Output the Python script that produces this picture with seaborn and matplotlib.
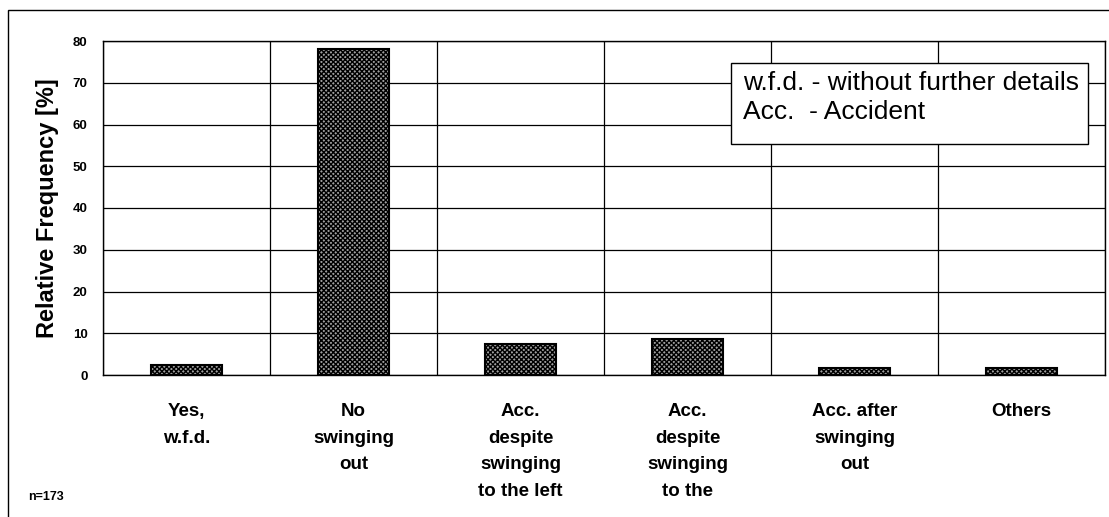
import numpy as np
import pandas as pd
import matplotlib
matplotlib.use("Agg")
import matplotlib.pyplot as plt
from matplotlib.patches import Rectangle
import seaborn as sns

# Data
categories = [
    "Yes,\nw.f.d.",
    "No\nswinging\nout",
    "Acc.\ndespite\nswinging\nto the left",
    "Acc.\ndespite\nswinging\nto the",
    "Acc. after\nswinging\nout",
    "Others",
]
rel_freq = [2.3, 78.0, 7.5, 8.7, 1.7, 1.7]
y_ticks = [0, 10, 20, 30, 40, 50, 60, 70, 80]
legend_lines = ["w.f.d. - without further details", "Acc.  - Accident"]
sample_note = "n=173"

df = pd.DataFrame({"category": categories, "value": rel_freq})

sns.set_style("white")
plt.rcParams["font.family"] = ["Liberation Sans", "DejaVu Sans"]
plt.rcParams["hatch.linewidth"] = 1.0
for key in ["text.color", "axes.labelcolor", "xtick.color", "ytick.color"]:
    plt.rcParams[key] = "black"

W, H = 1109, 517
fig = plt.figure(figsize=(W / 100, H / 100), dpi=100)
ax = fig.add_axes([103 / W, 1 - 375 / H, (1105 - 103) / W, (375 - 41) / H])

sns.barplot(data=df, x="category", y="value", color="#a0a0a0", width=0.42,
            edgecolor="black", linewidth=1.5, saturation=1, ax=ax)
for bar in ax.patches:
    bar.set_hatch("xxxxxxx")

ax.set_xlim(-0.5, len(categories) - 0.5)
ax.set_ylim(0, 80)
ax.set_yticks(y_ticks)
ax.set_yticklabels([str(t) for t in y_ticks], fontsize=9.5, fontweight="bold")
ax.set_xticks(range(len(categories)))
ax.set_xticklabels(categories, fontsize=13.5, fontweight="bold", linespacing=1.75,
                   va="top")
ax.set_xticks(np.arange(-0.5, len(categories), 1.0), minor=True)

ax.tick_params(axis="x", which="major", length=0, pad=20)
ax.tick_params(axis="x", which="minor", length=6, width=0.8, direction="out", color="black")
ax.tick_params(axis="y", length=5, width=0.8, direction="out", color="black", pad=6)

ax.grid(axis="y", which="major", color="black", linewidth=0.9)
ax.grid(axis="x", which="minor", color="black", linewidth=0.9)
ax.set_axisbelow(True)
for s in ax.spines.values():
    s.set_color("black")
    s.set_linewidth(1.0)

ax.set_xlabel("")
ax.set_ylabel("Relative Frequency [%]", fontsize=17, fontweight="bold", labelpad=10)

# legend-style note box
fig.patches.append(Rectangle((731 / W, 1 - 144 / H), (1088 - 731) / W, (144 - 63) / H,
                             transform=fig.transFigure, facecolor="white",
                             edgecolor="black", linewidth=1.0, zorder=5))
for i, line in enumerate(legend_lines):
    fig.text(743 / W, 1 - (83 + 29 * i) / H, line, fontsize=19, va="center",
             ha="left", zorder=6)

fig.text(28 / W, 1 - 497 / H, sample_note, fontsize=9, fontweight="bold",
         va="center", ha="left")

# outer frame of the original figure
fig.patches.append(Rectangle((8 / W, -0.1), 1.2, 1.1 - 10 / H, transform=fig.transFigure,
                             fill=False, edgecolor="black", linewidth=1.0))

fig.savefig("out.png", dpi=100)
plt.close(fig)
